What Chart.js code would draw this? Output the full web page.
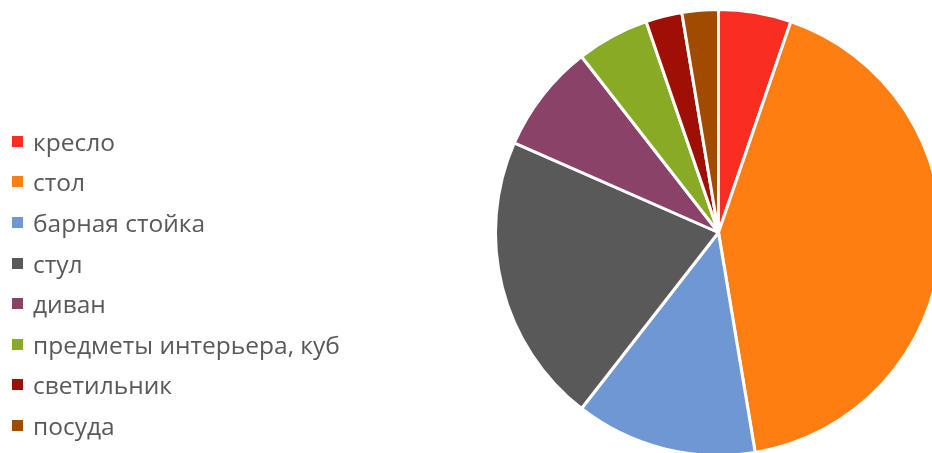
<!DOCTYPE html>
<html>
<head>
<meta charset="utf-8">
<script src="https://cdn.jsdelivr.net/npm/chart.js@4"></script>
<style>
    html, body { margin: 0; padding: 0; background: #fff; overflow: hidden; }
    body { width: 932px; height: 453px; position: relative; }
    #wrap { position: absolute; left: 0; top: 0; width: 943px; height: 460px; }
    #legend { position: absolute; left: 12px; top: 121px; font-family: "Open Sans", sans-serif; font-size: 24.5px; color: #595959; }
    .item { height: 40.6px; display: flex; align-items: center; white-space: nowrap; }
    .box { width: 11px; height: 11px; margin-right: 10px; flex: none; }
</style>
</head>
<body>
<div id="wrap"><canvas id="pie"></canvas></div>
<div id="legend"></div>
<script>
const labels = [
    "кресло",
    "стол",
    "барная стойка",
    "стул",
    "диван",
    "предметы интерьера, куб",
    "светильник",
    "посуда",
];

const values = [2, 16, 5, 8, 3, 2, 1, 1];

const colors = [
    "#F92D22",
    "#FE7E11",
    "#6F97D4",
    "#595959",
    "#8A4268",
    "#88AA25",
    "#A00F06",
    "#A04B00",
];

// legend drawn as html, from the same arrays
const legend = document.getElementById('legend');
labels.forEach(function (name, i) {
    const row = document.createElement('div');
    row.className = 'item';
    row.innerHTML = '<span class="box" style="background:' + colors[i] + '"></span>' + name;
    legend.appendChild(row);
});

const pieChart = new Chart(document.getElementById('pie'), {
    type: 'pie',
    data: {
        labels: labels,
        datasets: [{
            data: values,
            backgroundColor: colors,
            borderColor: '#fff',
            borderWidth: 3,
        }]
    },
    options: {
        responsive: true,
        maintainAspectRatio: false,
        animation: false,
        layout: { padding: { left: 494, top: 8, right: 0, bottom: 3 } },
        plugins: {
            legend: { display: false },
            tooltip: { enabled: false },
        }
    }
});
</script>
</body>
</html>
